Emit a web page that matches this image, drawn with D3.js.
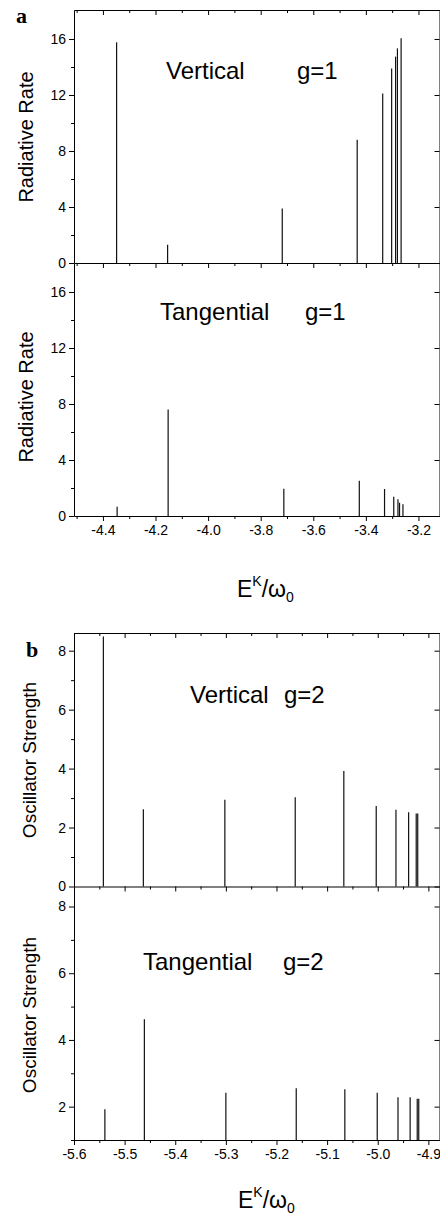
<!DOCTYPE html>
<html>
<head>
<meta charset="utf-8">
<script src="https://cdn.jsdelivr.net/npm/d3@7"></script>
<style>
  html, body { margin: 0; padding: 0; background: #fff; }
  svg text { font-family: "Liberation Sans", Arial, sans-serif; fill: #000; }
  .axis path, .axis line { stroke: #000; stroke-width: 1; }
  .axis text { font-size: 14px; }
</style>
</head>
<body>
<div id="chart"></div>
<script>
// Panel a: g=1, radiative rate vs E^K/w0
const vertG1E = [-4.348, -4.154, -3.718, -3.433, -3.336, -3.302, -3.287, -3.280, -3.266];
const vertG1Rate = [15.76, 1.3, 3.9, 8.8, 12.1, 13.9, 14.74, 15.33, 16.05];
const tanG1E = [-4.346, -4.152, -3.712, -3.425, -3.329, -3.294, -3.278, -3.272, -3.259];
const tanG1Rate = [0.66, 7.6, 1.95, 2.52, 1.93, 1.38, 1.19, 0.95, 0.84];

// Panel b: g=2, oscillator strength vs E^K/w0
const vertG2E = [-5.542, -5.463, -5.302, -5.163, -5.067, -5.003, -4.964, -4.939, -4.924, -4.921];
const vertG2Osc = [8.48, 2.62, 2.94, 3.03, 3.92, 2.73, 2.6, 2.52, 2.48, 2.48];
const tanG2E = [-5.539, -5.461, -5.300, -5.161, -5.065, -5.001, -4.960, -4.936, -4.922, -4.919];
const tanG2Osc = [1.92, 4.62, 2.42, 2.55, 2.52, 2.42, 2.28, 2.28, 2.24, 2.24];

// ticks
const xTicksA = [-4.4, -4.2, -4.0, -3.8, -3.6, -3.4, -3.2];
const xMinorA = [-4.5, -4.3, -4.1, -3.9, -3.7, -3.5, -3.3];
const yTicksA = [0, 4, 8, 12, 16];
const yMinorA = [2, 6, 10, 14];
const xTicksB = [-5.6, -5.5, -5.4, -5.3, -5.2, -5.1, -5.0, -4.9];
const xMinorB = [-5.55, -5.45, -5.35, -5.25, -5.15, -5.05, -4.95];
const yTicksBTop = [0, 2, 4, 6, 8];
const yTicksBBottom = [2, 4, 6, 8];
const yMinorB = [1, 3, 5, 7];

const W = 440, H = 1217;
const LEFT = 74, RIGHT = 439.5;

const svg = d3.select("#chart").append("svg")
  .attr("width", W)
  .attr("height", H);

const fmt = d => d.toFixed(1);

function drawSub(opts) {
  const { x, top, bottom, yDomain, yTicks, yMinor, xTicks, xMinor, xs, ys, showXLabels } = opts;
  const y = d3.scaleLinear().domain(yDomain).range([bottom, top]);
  const g = svg.append("g");

  // peaks
  g.selectAll("line.peak")
    .data(xs.map((e, i) => ({ e: e, v: ys[i] })))
    .enter()
    .append("line")
    .attr("class", "peak")
    .attr("x1", d => x(d.e))
    .attr("x2", d => x(d.e))
    .attr("y1", y(yDomain[0]))
    .attr("y2", d => y(d.v))
    .attr("stroke", "#111")
    .attr("stroke-width", 1.2);

  // left axis
  g.append("g").attr("class", "axis")
    .attr("transform", `translate(${LEFT},0)`)
    .call(d3.axisLeft(y).tickValues(yTicks).tickFormat(d3.format("d")).tickSize(5).tickSizeOuter(0).tickPadding(3));
  g.append("g").attr("class", "axis")
    .attr("transform", `translate(${LEFT},0)`)
    .call(d3.axisLeft(y).tickValues(yMinor).tickFormat("").tickSize(3).tickSizeOuter(0))
    .select(".domain").remove();

  // right axis (inward)
  g.append("g").attr("class", "axis")
    .attr("transform", `translate(${RIGHT},0)`)
    .call(d3.axisRight(y).tickValues(yTicks).tickFormat("").tickSize(-5).tickSizeOuter(0));

  // bottom axis (outward)
  g.append("g").attr("class", "axis")
    .attr("transform", `translate(0,${bottom})`)
    .call(d3.axisBottom(x).tickValues(xTicks).tickFormat(showXLabels ? fmt : "").tickSize(5).tickSizeOuter(0).tickPadding(4));
  g.append("g").attr("class", "axis")
    .attr("transform", `translate(0,${bottom})`)
    .call(d3.axisBottom(x).tickValues(xMinor).tickFormat("").tickSize(3).tickSizeOuter(0))
    .select(".domain").remove();

  if (opts.topAxis) {
    g.append("g").attr("class", "axis")
      .attr("transform", `translate(0,${top})`)
      .call(d3.axisTop(x).tickValues(xTicks).tickFormat("").tickSize(-5).tickSizeOuter(0));
    g.append("g").attr("class", "axis")
      .attr("transform", `translate(0,${top})`)
      .call(d3.axisTop(x).tickValues(xMinor).tickFormat("").tickSize(-3).tickSizeOuter(0))
      .select(".domain").remove();
  }
  return y;
}

function label(xp, yp, txt, size) {
  svg.append("text").attr("x", xp).attr("y", yp)
    .attr("font-size", size).text(txt);
}

function yTitle(xp, yp, txt, size) {
  svg.append("text")
    .attr("transform", `translate(${xp},${yp}) rotate(-90)`)
    .attr("text-anchor", "middle")
    .attr("font-size", size)
    .text(txt);
}

function xTitle(xp, yp) {
  const t = svg.append("text").attr("x", xp).attr("y", yp).attr("font-size", 23);
  t.append("tspan").text("E");
  t.append("tspan").attr("font-size", 14).attr("dy", -11).text("K");
  t.append("tspan").attr("dy", 11).text("/ω");
  t.append("tspan").attr("font-size", 14).attr("dy", 5).text("0");
}

// ---------- panel a ----------
const xA = d3.scaleLinear().domain([-4.51, -3.12]).range([LEFT, RIGHT]);
drawSub({ x: xA, top: 10, bottom: 263, yDomain: [0, 18.07], yTicks: yTicksA, yMinor: yMinorA,
  xTicks: xTicksA, xMinor: xMinorA, xs: vertG1E, ys: vertG1Rate, showXLabels: false, topAxis: true });
drawSub({ x: xA, top: 263, bottom: 516, yDomain: [0, 18.07], yTicks: yTicksA, yMinor: yMinorA,
  xTicks: xTicksA, xMinor: xMinorA, xs: tanG1E, ys: tanG1Rate, showXLabels: true, topAxis: false });

svg.append("text").attr("x", 16).attr("y", 23)
  .attr("font-size", 22).attr("font-weight", "bold")
  .style("font-family", "'Liberation Serif', 'Times New Roman', serif")
  .text("a");

label(166, 79, "Vertical", 24);
label(297, 79, "g=1", 24);
label(160, 320, "Tangential", 24);
label(305, 320, "g=1", 24);
yTitle(33, 137, "Radiative Rate", 20);
yTitle(33, 397, "Radiative Rate", 20);
xTitle(237, 597);

// ---------- panel b ----------
const xB = d3.scaleLinear().domain([-5.6, -4.878]).range([LEFT, RIGHT]);
drawSub({ x: xB, top: 633, bottom: 886.5, yDomain: [0, 8.6], yTicks: yTicksBTop, yMinor: yMinorB,
  xTicks: xTicksB, xMinor: xMinorB, xs: vertG2E, ys: vertG2Osc, showXLabels: false, topAxis: true });
drawSub({ x: xB, top: 886.5, bottom: 1140, yDomain: [1, 8.6], yTicks: yTicksBBottom, yMinor: yMinorB,
  xTicks: xTicksB, xMinor: xMinorB, xs: tanG2E, ys: tanG2Osc, showXLabels: true, topAxis: false });

svg.append("text").attr("x", 26).attr("y", 657)
  .attr("font-size", 22).attr("font-weight", "bold")
  .style("font-family", "'Liberation Serif', 'Times New Roman', serif")
  .text("b");

label(190, 703, "Vertical", 24);
label(284, 703, "g=2", 24);
label(143, 970, "Tangential", 24);
label(283, 970, "g=2", 24);
yTitle(36, 760, "Oscillator Strength", 19);
yTitle(36, 1015, "Oscillator Strength", 19);
xTitle(238, 1208);
</script>
</body>
</html>
